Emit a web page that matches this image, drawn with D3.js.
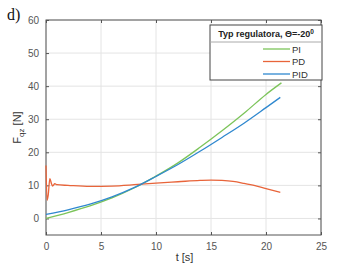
<!DOCTYPE html>
<html>
<head>
<meta charset="utf-8">
<script src="https://cdn.jsdelivr.net/npm/d3@7"></script>
<style>
  body { margin: 0; background: #fff; }
  text { font-family: "Liberation Sans", Arial, sans-serif; }
</style>
</head>
<body>
<div id="chart"></div>
<script>
// values
var xTicks = [0, 5, 10, 15, 20, 25];
var yTicks = [0, 10, 20, 30, 40, 50, 60];

var tPI  = [0, 2, 4, 6, 8, 10, 12, 14, 16, 18, 20, 21.4];
var fPI  = [0, 1.8, 3.8, 6.2, 9.2, 12.8, 16.8, 21.5, 26.5, 31.8, 37.5, 41];

var tPID = [0, 2, 4, 6, 8, 10, 12, 14, 16, 18, 20, 21.3];
var fPID = [1.2, 2.6, 4.3, 6.5, 9.3, 12.7, 16.3, 20.3, 24.5, 28.8, 33.5, 36.6];

var tPD  = [0, 0.1, 0.2, 0.35, 0.5, 0.6, 0.8, 1, 2, 4, 6, 8, 10, 12, 14, 15, 16, 17, 18, 19, 20, 21.3];
var fPD  = [16, 5.5, 7, 12, 10.5, 9.8, 10.5, 10.2, 10, 9.7, 9.8, 10.2, 10.7, 11.1, 11.5, 11.6, 11.5, 11.2, 10.6, 9.9, 9, 7.9];

var seriesNames = ["PI", "PD", "PID"];
var colors = ["#7cc45a", "#e8643a", "#2f88cf"];

var W = 355, H = 267;
var margin = { top: 20, right: 34, bottom: 32, left: 46 },
    width = W - margin.left - margin.right,
    height = H - margin.top - margin.bottom;

var svg = d3.select("#chart").append("svg")
    .attr("width", W)
    .attr("height", H);

var g = svg.append("g")
    .attr("transform", "translate(" + margin.left + "," + margin.top + ")");

var x = d3.scaleLinear().domain([0, 25]).range([0, width]);
var y = d3.scaleLinear().domain([-5, 60]).range([height, 0]);

// grid
g.selectAll(".gx").data(xTicks).enter().append("line")
    .attr("x1", d => x(d)).attr("x2", d => x(d))
    .attr("y1", 0).attr("y2", height)
    .attr("stroke", "#e4e4e4");
g.selectAll(".gy").data(yTicks).enter().append("line")
    .attr("x1", 0).attr("x2", width)
    .attr("y1", d => y(d)).attr("y2", d => y(d))
    .attr("stroke", "#e4e4e4");

// axes, matlab style box with inward ticks
function styleAxis(sel) {
  sel.select(".domain").remove();
  sel.selectAll(".tick line").attr("stroke", "#555");
  sel.selectAll(".tick text").attr("fill", "#555").style("font-size", "10px");
}
g.append("g").attr("transform", "translate(0," + height + ")")
  .call(d3.axisBottom(x).tickValues(xTicks).tickSizeInner(-3).tickSizeOuter(0).tickPadding(8))
  .call(styleAxis);
g.append("g")
  .call(d3.axisLeft(y).tickValues(yTicks).tickSizeInner(-3).tickSizeOuter(0).tickPadding(7))
  .call(styleAxis);
g.append("g")
  .call(d3.axisTop(x).tickValues(xTicks).tickSizeInner(-3).tickSizeOuter(0).tickFormat(""))
  .call(styleAxis);
g.append("g").attr("transform", "translate(" + width + ",0)")
  .call(d3.axisRight(y).tickValues(yTicks).tickSizeInner(-3).tickSizeOuter(0).tickFormat(""))
  .call(styleAxis);

g.append("rect")
  .attr("width", width).attr("height", height)
  .attr("fill", "none").attr("stroke", "#555").attr("stroke-width", 1);

// lines
var line = d3.line()
  .x(d => x(d[0]))
  .y(d => y(d[1]))
  .curve(d3.curveMonotoneX);

var data = [
  d3.zip(tPI, fPI),
  d3.zip(tPD, fPD),
  d3.zip(tPID, fPID)
];
g.selectAll(".series").data(data).enter().append("path")
  .attr("d", line)
  .attr("fill", "none")
  .attr("stroke", (d, i) => colors[i])
  .attr("stroke-width", 1.3);

// axis labels
svg.append("text")
  .attr("x", margin.left + width / 2 + 1)
  .attr("y", 261)
  .attr("text-anchor", "middle")
  .style("font-size", "11px")
  .attr("fill", "#333")
  .text("t [s]");

var yl = svg.append("text")
  .attr("transform", "translate(21," + (margin.top + height / 2) + ") rotate(-90)")
  .attr("text-anchor", "middle")
  .style("font-size", "11px")
  .attr("fill", "#333");
yl.append("tspan").text("F");
yl.append("tspan").attr("dy", 3).style("font-size", "8px").text("qz");
yl.append("tspan").attr("dy", -3).text(" [N]");

svg.append("text")
  .attr("x", 7).attr("y", 20)
  .style("font-family", "'Liberation Serif', 'Times New Roman', serif")
  .style("font-size", "16px")
  .attr("fill", "#111")
  .text("d)");

// legend
var lg = svg.append("g").attr("transform", "translate(210,25)");
lg.append("rect")
  .attr("width", 112).attr("height", 55)
  .attr("fill", "#fff").attr("stroke", "#444");
lg.append("line")
  .attr("x1", 0).attr("x2", 112).attr("y1", 17).attr("y2", 17)
  .attr("stroke", "#aaa");
var tt = lg.append("text")
  .attr("x", 56).attr("y", 12)
  .attr("text-anchor", "middle")
  .style("font-size", "9px").style("font-weight", "bold")
  .attr("fill", "#222");
tt.append("tspan").text("Typ regulatora, \u0398=-20");
tt.append("tspan").attr("dy", -3).style("font-size", "6.5px").text("0");

seriesNames.forEach(function(name, i) {
  var yy = 24 + i * 12.5;
  lg.append("line")
    .attr("x1", 53).attr("x2", 80)
    .attr("y1", yy).attr("y2", yy)
    .attr("stroke", colors[i]).attr("stroke-width", 1.3);
  lg.append("text")
    .attr("x", 82).attr("y", yy + 3.5)
    .style("font-size", "9.5px")
    .attr("fill", "#333")
    .text(name);
});
</script>
</body>
</html>
